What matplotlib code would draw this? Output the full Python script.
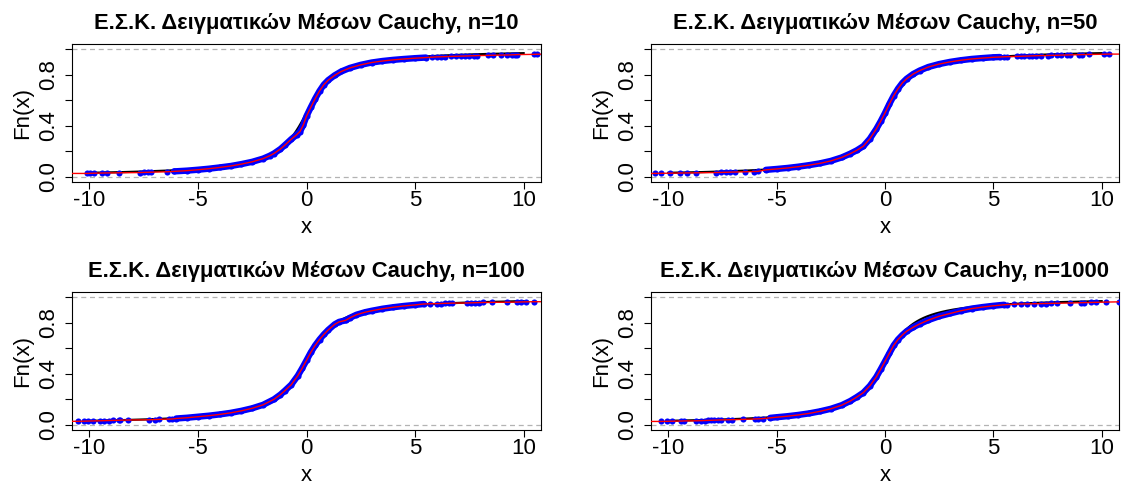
import numpy as np
import matplotlib
matplotlib.use("Agg")
import matplotlib.pyplot as plt

plt.rcParams['font.family'] = ['Liberation Sans', 'DejaVu Sans']

# ---------------- data ----------------
titles = ["Ε.Σ.Κ. Δειγματικών Μέσων Cauchy, n=10",
          "Ε.Σ.Κ. Δειγματικών Μέσων Cauchy, n=50",
          "Ε.Σ.Κ. Δειγματικών Μέσων Cauchy, n=100",
          "Ε.Σ.Κ. Δειγματικών Μέσων Cauchy, n=1000"]

x_ticks = [-10, -5, 0, 5, 10]
y_ticks = [0.0, 0.2, 0.4, 0.6, 0.8, 1.0]
y_ticklabels = ["0.0", "", "0.4", "", "0.8", ""]

# n = 10
n10_left_x = [-10.1, -9.95, -9.77, -9.41, -9.18, -8.62, -7.65, -7.5, -7.31, -7.16, -6.42]
n10_left_F = [0.027, 0.028, 0.029, 0.030, 0.031, 0.032, 0.034, 0.035, 0.036, 0.037, 0.040]
n10_dense_x = [-6.1, -5.5, -5.0, -4.5, -4.0, -3.5, -3.0, -2.5, -2.0, -1.7, -1.5, -1.2, -1.0,
               -0.7, -0.45, -0.3, -0.15, 0.0, 0.2, 0.4, 0.6, 0.8, 1.0, 1.3, 1.6, 2.0, 2.5,
               3.0, 3.5, 4.0, 4.5, 5.0, 5.5]
n10_dense_F = [0.043, 0.049, 0.056, 0.064, 0.074, 0.085, 0.100, 0.118, 0.143, 0.165, 0.183,
               0.218, 0.248, 0.295, 0.330, 0.355, 0.405, 0.475, 0.545, 0.612, 0.672, 0.722,
               0.757, 0.795, 0.825, 0.853, 0.877, 0.895, 0.907, 0.916, 0.923, 0.929, 0.934]
n10_right_x = [5.8, 6.0, 6.2, 6.4, 6.65, 6.9, 7.1, 7.3, 7.5, 7.7, 7.85, 8.35, 8.6, 8.95,
               9.25, 9.45, 9.6, 9.7, 10.5, 10.6]
n10_right_F = [0.937, 0.939, 0.940, 0.941, 0.943, 0.944, 0.945, 0.946, 0.947, 0.948, 0.949,
               0.951, 0.952, 0.953, 0.954, 0.955, 0.956, 0.957, 0.959, 0.960]

# n = 50
n50_left_x = [-10.63, -10.32, -9.94, -9.48, -9.12, -8.71, -7.79, -7.56, -7.33, -7.17, -6.94,
              -6.48, -6.03, -5.87]
n50_left_F = [0.027, 0.028, 0.029, 0.030, 0.031, 0.032, 0.034, 0.035, 0.036, 0.037, 0.038,
              0.040, 0.042, 0.043]
n50_dense_x = [-5.5, -5.0, -4.5, -4.0, -3.5, -3.0, -2.5, -2.0, -1.6, -1.3, -1.0, -0.7, -0.4,
               -0.2, 0.0, 0.2, 0.4, 0.6, 0.8, 1.0, 1.3, 1.6, 2.0, 2.5, 3.0, 3.5, 4.0, 4.5,
               5.0, 5.3]
n50_dense_F = [0.055, 0.062, 0.070, 0.080, 0.092, 0.106, 0.125, 0.152, 0.182, 0.208, 0.240,
               0.298, 0.375, 0.435, 0.500, 0.570, 0.635, 0.690, 0.735, 0.768, 0.805, 0.832,
               0.860, 0.883, 0.900, 0.913, 0.923, 0.930, 0.936, 0.938]
n50_right_x = [5.5, 5.65, 6.11, 6.27, 6.42, 6.65, 6.8, 6.96, 7.19, 7.5, 7.65, 7.96, 8.1,
               8.4, 8.56, 8.95, 9.1, 9.4, 10.1, 10.33]
n50_right_F = [0.940, 0.941, 0.943, 0.944, 0.945, 0.946, 0.947, 0.948, 0.949, 0.950, 0.951,
               0.952, 0.953, 0.954, 0.955, 0.956, 0.957, 0.958, 0.960, 0.961]

# n = 100
n100_left_x = [-10.54, -10.26, -10.06, -9.83, -9.52, -9.34, -9.11, -8.91, -8.65, -8.57,
               -8.24, -7.27, -6.96, -6.8, -6.34, -6.19]
n100_left_F = [0.028, 0.029, 0.030, 0.031, 0.032, 0.033, 0.034, 0.035, 0.036, 0.037,
               0.038, 0.040, 0.042, 0.043, 0.045, 0.046]
n100_dense_x = [-6.0, -5.5, -5.0, -4.5, -4.0, -3.5, -3.0, -2.5, -2.0, -1.5, -1.2, -1.0, -0.7,
                -0.4, -0.2, 0.0, 0.2, 0.4, 0.6, 0.8, 1.0, 1.3, 1.5, 1.8, 2.0, 2.3, 2.7, 3.0,
                3.5, 4.0, 4.5, 5.0, 5.4]
n100_dense_F = [0.050, 0.056, 0.064, 0.072, 0.082, 0.094, 0.110, 0.130, 0.157, 0.200, 0.237,
                0.267, 0.315, 0.385, 0.443, 0.505, 0.568, 0.622, 0.668, 0.708, 0.743, 0.787,
                0.806, 0.818, 0.838, 0.862, 0.882, 0.893, 0.909, 0.921, 0.931, 0.939, 0.946]
n100_right_x = [5.71, 6.02, 6.18, 6.36, 6.56, 6.71, 7.4, 7.56, 7.74, 7.94, 8.14, 8.56, 9.25,
                9.71, 9.86, 10.1, 10.48]
n100_right_F = [0.948, 0.949, 0.950, 0.951, 0.952, 0.953, 0.954, 0.955, 0.956, 0.957, 0.958,
                0.959, 0.960, 0.961, 0.962, 0.963, 0.964]

# n = 1000
n1000_left_x = [-10.35, -10.05, -9.83, -9.4, -9.28, -8.71, -8.48, -8.33, -8.17, -8.02, -7.87,
                -7.71, -7.59, -7.25, -7.06, -6.56, -6.02, -5.87, -5.64]
n1000_left_F = [0.027, 0.028, 0.029, 0.030, 0.031, 0.032, 0.033, 0.034, 0.035, 0.036, 0.037,
                0.038, 0.039, 0.040, 0.041, 0.043, 0.046, 0.047, 0.049]
n1000_dense_x = [-5.3, -5.0, -4.5, -4.0, -3.5, -3.0, -2.5, -2.0, -1.6, -1.3, -1.0, -0.7, -0.4,
                 -0.2, 0.0, 0.2, 0.4, 0.6, 0.8, 1.0, 1.3, 1.6, 2.0, 2.5, 3.0, 3.5, 4.0, 4.5,
                 5.0, 5.5]
n1000_dense_F = [0.055, 0.060, 0.068, 0.078, 0.090, 0.106, 0.126, 0.154, 0.187, 0.218, 0.252,
                 0.305, 0.375, 0.435, 0.497, 0.560, 0.622, 0.668, 0.703, 0.733, 0.764, 0.790,
                 0.820, 0.850, 0.872, 0.893, 0.910, 0.922, 0.932, 0.940]
n1000_right_x = [5.65, 5.96, 6.27, 6.57, 6.88, 7.19, 7.42, 7.65, 7.96, 8.56, 9.03, 9.18, 9.49,
                 9.72, 10.18, 10.8]
n1000_right_F = [0.942, 0.944, 0.946, 0.947, 0.948, 0.949, 0.950, 0.951, 0.952, 0.954, 0.956,
                 0.957, 0.958, 0.959, 0.961, 0.963]

panels = [
    (n10_left_x, n10_left_F, n10_dense_x, n10_dense_F, n10_right_x, n10_right_F),
    (n50_left_x, n50_left_F, n50_dense_x, n50_dense_F, n50_right_x, n50_right_F),
    (n100_left_x, n100_left_F, n100_dense_x, n100_dense_F, n100_right_x, n100_right_F),
    (n1000_left_x, n1000_left_F, n1000_dense_x, n1000_dense_F, n1000_right_x, n1000_right_F),
]

# ---------------- figure ----------------
W, H = 1125, 484
fig = plt.figure(figsize=(W / 100, H / 100), dpi=100)

ax_rects = [(72, 44, 541, 182), (651, 44, 1119, 182),
            (72, 292, 541, 430), (651, 292, 1119, 430)]

XLIM = (-10.8, 10.8)
YLIM = (-0.04, 1.04)

for k, (rect, title, pdata) in enumerate(zip(ax_rects, titles, panels)):
    l, t, r, b = rect
    ax = fig.add_axes([l / W, 1 - b / H, (r - l) / W, (b - t) / H])
    lx, lF, dx, dF, rx, rF = pdata

    # dashed reference lines at 0 and 1
    ax.axhline(0, color="#B3B3B3", lw=0.9, ls=(0, (4, 3)), zorder=1)
    ax.axhline(1, color="#B3B3B3", lw=0.9, ls=(0, (4, 3)), zorder=1)

    # theoretical Cauchy CDF
    xt = np.linspace(-10, 10, 600)
    ax.plot(xt, 0.5 + np.arctan(xt) / np.pi, color="black", lw=1.6, zorder=2)

    # empirical points
    ax.plot(dx, dF, color="blue", lw=4.6, solid_capstyle="round", zorder=3)
    ax.plot(dx, dF, "o", color="blue", ms=4.4, mec="none", zorder=3)
    ax.plot(lx, lF, "o", color="blue", ms=4.4, mec="none", zorder=3)
    ax.plot(rx, rF, "o", color="blue", ms=4.4, mec="none", zorder=3)

    # empirical line (red)
    allx = [XLIM[0]] + list(lx) + list(dx) + list(rx) + [XLIM[1]]
    allF = [lF[0]] + list(lF) + list(dF) + list(rF) + [rF[-1]]
    ax.plot(allx, allF, color="red", lw=1.0, zorder=5)

    ax.set_xlim(*XLIM)
    ax.set_ylim(*YLIM)
    ax.set_xticks(x_ticks)
    ax.set_xticklabels([str(v) for v in x_ticks])
    ax.set_yticks(y_ticks)
    ax.set_yticklabels(y_ticklabels, rotation=90, va="center")
    ax.tick_params(axis="both", direction="out", length=5, width=0.8,
                   labelsize=16)
    ax.tick_params(axis="x", pad=1)
    ax.tick_params(axis="y", pad=4)
    for s in ax.spines.values():
        s.set_linewidth(0.8)
        s.set_color("black")
    ax.set_title(title, fontsize=15.8, fontweight="bold", pad=11)
    ax.set_xlabel("x", fontsize=16, labelpad=4)
    ax.set_ylabel("Fn(x)", fontsize=16, labelpad=4)

fig.savefig("out.png", dpi=100)
